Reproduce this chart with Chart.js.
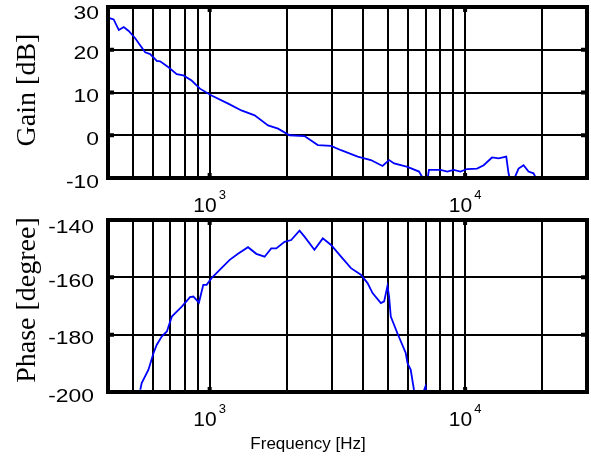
<!DOCTYPE html>
<html lang="en">

<head>
    <meta charset="UTF-8">
    <title>Gain / Phase</title>
    <script src="https://cdn.jsdelivr.net/npm/chart.js"></script>
    <style>
        body { margin: 0; background: #fff; }
        .wrap { position: relative; width: 591px; height: 461px; }
        canvas { position: absolute; left: 0; }
        #gainChart { top: 0; }
        #phaseChart { top: 214px; }
    </style>
</head>

<body>
    <div class="wrap">
        <canvas id="gainChart" width="591" height="214"></canvas>
        <canvas id="phaseChart" width="591" height="247"></canvas>
    </div>
</body>
<script>
    // measured gain curve (Hz, dB)
    const gainFreq = [400, 421, 441, 461, 482, 511, 559, 585, 621, 640, 690, 743, 789, 850, 916,
        1017, 1182, 1331, 1500, 1693, 1852, 2055, 2351, 2651, 2987, 3268, 3796, 4277, 4750, 5040,
        5275, 5947, 6600, 6905, 7115, 7218, 8017, 8510, 9030, 9587, 10180, 11140, 11820, 12740,
        13520, 14490, 14790, 15020, 15480, 16190, 16940, 17710, 18530, 19100];
    const gainDb = [27.5, 27.1, 24.6, 25.3, 24.4, 22.7, 19.4, 19.0, 17.4, 17.3, 15.9, 14.3, 14.0, 12.8, 10.9,
        9.3, 7.4, 5.8, 4.65, 2.3, 1.55, 0, -0.2, -2.3, -2.5, -3.5, -5, -5.8, -7.2, -5.8,
        -6.6, -7.4, -8.5, -10.5, -10.5, -8.1, -8.1, -8.5, -8.1, -8.5, -7.9, -7.8, -7, -5.2,
        -5.4, -5, -8.9, -10.5, -10.5, -7.8, -7, -8.5, -8.9, -10.5];

    // measured phase curve (Hz, degree)
    const phaseFreq = [535, 542, 576, 603, 621, 650, 680, 711, 733, 778, 838, 864, 908, 944, 973,
        1017, 1112, 1198, 1291, 1413, 1523, 1641, 1742, 1823, 1964, 2085, 2248, 2351, 2571, 2773,
        2987, 3268, 3574, 3908, 4150, 4342, 4679, 4820, 4967, 5040, 5117, 5432, 5855, 5947, 6122,
        6305, 6400, 6800, 6998, 7060];
    const phaseDeg = [-199.2, -196.9, -192.2, -186.4, -183.5, -180.6, -178.9, -173.7, -172.5, -170.2,
        -166.9, -166.7, -168.8, -162.6, -162.6, -160.3, -156.8, -153.9, -151.8, -149.5, -151.8,
        -152.8, -149.9, -149.9, -147.6, -147, -143.7, -145.8, -150.4, -146.4, -148.7, -152.8,
        -156.8, -159.1, -162, -165.5, -169, -168.4, -163, -166.7, -173.7, -179.5, -186.4, -189.9,
        -192.2, -199.2, -201, -201, -198, -201];

    // axes
    const freqRange = [400, 30000];
    const gridFreqs = [400, 500, 600, 700, 800, 900, 1000, 2000, 3000, 4000, 5000, 6000, 7000,
        8000, 9000, 10000, 20000, 30000];
    const majorFreqs = [1000, 10000];
    const majorExp = ['3', '4'];
    const gainTicks = [-10, 0, 10, 20, 30];
    const phaseTicks = [-200, -180, -160, -140];

    // frame, tick marks and all the text (MATLAB style)
    const framePlugin = {
        id: 'frame',
        afterDraw(chart, args, o) {
            const ctx = chart.ctx;
            const a = chart.chartArea;
            const xs = chart.scales.x;
            const ys = chart.scales.y;
            ctx.save();
            ctx.strokeStyle = '#000';
            ctx.fillStyle = '#000';

            // little inner tick marks
            ctx.lineWidth = 4;
            ctx.beginPath();
            o.yTicks.forEach(v => {
                const y = ys.getPixelForValue(v);
                ctx.moveTo(a.left, y); ctx.lineTo(a.left + 6, y);
                ctx.moveTo(a.right, y); ctx.lineTo(a.right - 6, y);
            });
            majorFreqs.forEach(f => {
                const x = xs.getPixelForValue(f);
                ctx.moveTo(x, a.top); ctx.lineTo(x, a.top + 5);
                ctx.moveTo(x, a.bottom); ctx.lineTo(x, a.bottom - 5);
            });
            ctx.stroke();
            ctx.strokeRect(a.left, a.top, a.right - a.left, a.bottom - a.top);

            // y tick labels (stretched a bit like the original)
            ctx.font = '18px "Liberation Sans", Arial, sans-serif';
            ctx.textAlign = 'right';
            ctx.textBaseline = 'alphabetic';
            o.yTicks.forEach(v => {
                const y = Math.max(ys.getPixelForValue(v) + 9.5, 18.5);
                ctx.save();
                ctx.translate(o.labelRight, y);
                ctx.scale(1.27, 1);
                ctx.fillText(String(v), 0, 0);
                ctx.restore();
            });

            // x tick labels 10^3, 10^4
            ctx.textAlign = 'left';
            majorFreqs.forEach((f, i) => {
                const x = xs.getPixelForValue(f);
                ctx.font = '21px "Liberation Sans", Arial, sans-serif';
                const w1 = ctx.measureText('10').width;
                ctx.font = '13px "Liberation Sans", Arial, sans-serif';
                const w2 = ctx.measureText(majorExp[i]).width;
                const x0 = x - (w1 + 2 + w2) / 2;
                const base = a.bottom + 34;
                ctx.font = '21px "Liberation Sans", Arial, sans-serif';
                ctx.fillText('10', x0, base);
                ctx.font = '13px "Liberation Sans", Arial, sans-serif';
                ctx.fillText(majorExp[i], x0 + w1 + 2, base - 13);
            });

            // y title
            ctx.font = '28px "Liberation Serif", "Times New Roman", serif';
            ctx.textAlign = 'center';
            ctx.save();
            ctx.translate(34.5, o.titleY);
            ctx.rotate(-Math.PI / 2);
            ctx.fillText(o.title, 0, 0);
            ctx.restore();

            // x title (only on the lower plot)
            if (o.xTitle) {
                ctx.font = '17px "Liberation Sans", Arial, sans-serif';
                ctx.textAlign = 'center';
                ctx.fillText(o.xTitle, 308, a.bottom + 57);
            }
            ctx.restore();
        }
    };

    function makeChart(id, freqs, values, yTicks, padTop, xHeight, opts) {
        const points = freqs.map((f, i) => ({ x: f, y: values[i] }));
        return new Chart(document.getElementById(id), {
            type: 'line',
            data: {
                datasets: [{
                    data: points,
                    borderColor: '#0000ff',
                    borderWidth: 1.8,
                    pointRadius: 0,
                    fill: false,
                    tension: 0,
                }],
            },
            options: {
                responsive: false,
                animation: false,
                devicePixelRatio: 1,
                layout: { padding: { top: padTop, right: 4, left: 0, bottom: 0 } },
                plugins: {
                    legend: { display: false },
                    tooltip: { enabled: false },
                    frame: opts,
                },
                scales: {
                    x: {
                        type: 'logarithmic',
                        min: freqRange[0],
                        max: freqRange[1],
                        afterBuildTicks: s => { s.ticks = gridFreqs.map(v => ({ value: v })); },
                        afterFit: s => { s.height = xHeight; },
                        ticks: { display: false },
                        grid: { color: '#000', lineWidth: 2, drawTicks: false },
                        border: { display: false },
                    },
                    y: {
                        min: yTicks[0],
                        max: yTicks[yTicks.length - 1],
                        afterBuildTicks: s => { s.ticks = yTicks.map(v => ({ value: v })); },
                        afterFit: s => { s.width = 108; },
                        ticks: { display: false },
                        grid: { color: '#000', lineWidth: 2, drawTicks: false },
                        border: { display: false },
                    },
                },
            },
            plugins: [framePlugin],
        });
    }

    makeChart('gainChart', gainFreq, gainDb, gainTicks, 7, 36,
        { yTicks: gainTicks, labelRight: 99, title: 'Gain [dB]', titleY: 90 });
    makeChart('phaseChart', phaseFreq, phaseDeg, phaseTicks, 6, 69,
        { yTicks: phaseTicks, labelRight: 94, title: 'Phase [degree]', titleY: 86, xTitle: 'Frequency [Hz]' });
</script>

</html>
